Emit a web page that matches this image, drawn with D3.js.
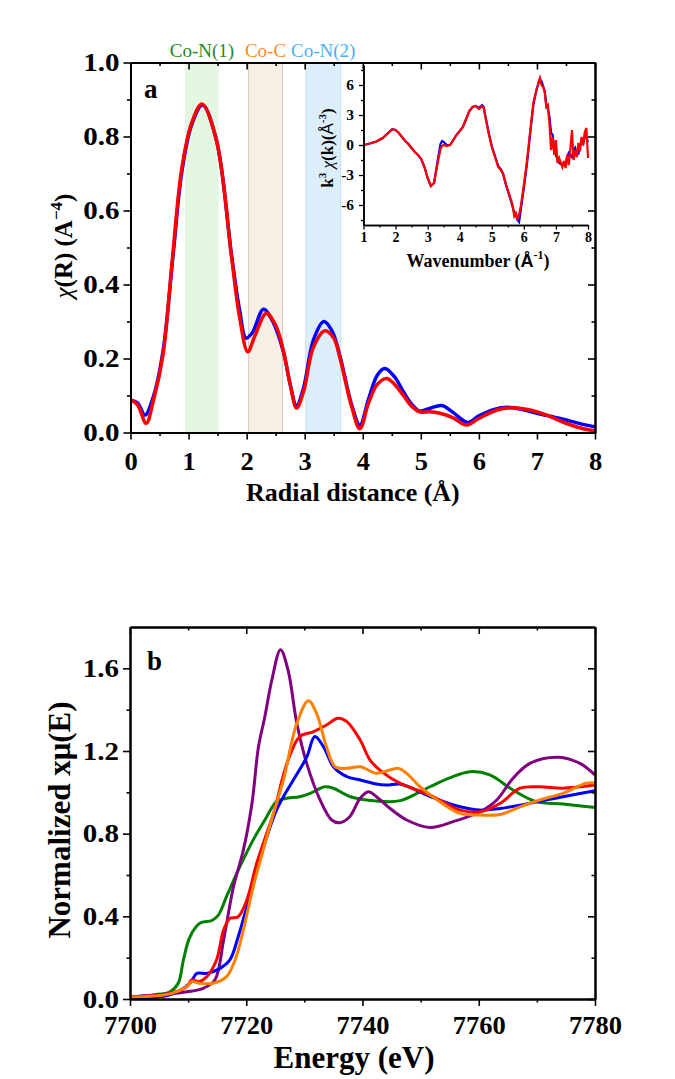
<!DOCTYPE html>
<html><head><meta charset="utf-8">
<script src="https://cdn.jsdelivr.net/npm/d3@7"></script>
<style>
body{margin:0;background:#fff;}
</style>
</head><body>
<svg id="c" width="675" height="1079"></svg>
<script>
// ---------- Panel a : FT magnitude ----------
const rExp   = [0,0.12,0.25,0.4,0.56,0.74,0.88,1.05,1.24,1.48,1.74,1.88,1.99,2.1,2.29,2.45,2.63,2.75,2.86,2.98,3.15,3.33,3.47,3.61,3.8,3.95,4.1,4.25,4.38,4.55,4.7,4.85,4.98,5.15,5.36,5.55,5.81,6.0,6.25,6.5,6.75,7.0,7.4,7.74,8.0];
const chiExp = [0.088,0.08,0.047,0.10,0.22,0.49,0.70,0.83,0.885,0.79,0.48,0.33,0.255,0.27,0.333,0.30,0.22,0.13,0.072,0.12,0.25,0.30,0.275,0.205,0.08,0.02,0.09,0.155,0.173,0.15,0.11,0.075,0.058,0.065,0.073,0.055,0.027,0.045,0.062,0.068,0.062,0.052,0.038,0.024,0.015];
const rFit   = [0,0.12,0.27,0.4,0.56,0.71,0.88,1.05,1.23,1.48,1.74,1.88,2.02,2.14,2.34,2.5,2.63,2.75,2.86,2.98,3.15,3.35,3.5,3.61,3.8,3.95,4.1,4.25,4.41,4.55,4.7,4.85,5.0,5.15,5.33,5.55,5.79,6.0,6.3,6.6,6.9,7.2,7.5,7.8,8.0];
const chiFit = [0.088,0.075,0.025,0.09,0.21,0.45,0.71,0.835,0.888,0.79,0.475,0.31,0.218,0.26,0.322,0.29,0.223,0.13,0.066,0.11,0.23,0.275,0.255,0.2,0.075,0.01,0.08,0.13,0.146,0.13,0.10,0.07,0.055,0.056,0.052,0.04,0.02,0.038,0.06,0.067,0.06,0.045,0.025,0.01,0.004];
const bandStart  = [0.94,2.03,3.02];
const bandEnd    = [1.52,2.62,3.62];
const bandLabels = ["Co-N(1)","Co-C","Co-N(2)"];
const aXTicks = [0,1,2,3,4,5,6,7,8];
const aYTicks = [0,0.2,0.4,0.6,0.8,1.0];

// ---------- Inset : k-space ----------
const kVals   = [1.0,1.2,1.4,1.6,1.8,1.9,2.0,2.1,2.2,2.3,2.4,2.5,2.6,2.7,2.8,2.9,3.0,3.1,3.2,3.3,3.4,3.45,3.5,3.6,3.7,3.8,3.9,4.0,4.1,4.2,4.3,4.4,4.5,4.6,4.7,4.75,4.8,4.9,5.0,5.1,5.2,5.3,5.35,5.45,5.55,5.65,5.7,5.75,5.8,5.85,5.9,6.0,6.1,6.2,6.3,6.4,6.5,6.55,6.6,6.65,6.7,6.75,6.8,6.85,6.9,6.95,7.0,7.05,7.1,7.2,7.25,7.3,7.35,7.4,7.45,7.5,7.55,7.6,7.65,7.7,7.75,7.8,7.85,7.9,7.95,8.0];
const kChiExp = [0.0,0.15,0.35,0.7,1.3,1.6,1.5,1.2,0.8,0.4,0.1,-0.3,-0.7,-1.0,-1.4,-2.2,-3.3,-4.1,-3.8,-1.8,0.1,0.4,0.3,0.0,0.0,0.5,1.0,1.4,1.8,2.6,3.4,3.8,3.9,3.7,4.0,3.8,2.9,1.3,-0.1,-1.1,-2.1,-2.5,-2.9,-4.1,-5.1,-6.2,-6.8,-7.0,-7.5,-7.7,-6.6,-4.3,-1.8,1.2,4.1,5.6,6.6,6.4,5.9,5.4,4.0,3.6,2.8,1.2,1.0,-0.4,-1.0,-1.5,-1.8,-2.0,-1.8,-1.9,-1.2,-0.8,-1.0,-1.2,-0.6,-0.3,-0.9,-0.9,-0.2,0.3,0.1,0.9,0.8,0.3];
const kChiFit = [0.0,0.15,0.35,0.7,1.3,1.55,1.5,1.2,0.8,0.4,0.1,-0.3,-0.7,-1.0,-1.4,-2.2,-3.3,-4.1,-3.8,-2.0,-0.4,-0.1,0.0,-0.1,0.0,0.5,1.0,1.4,1.8,2.6,3.4,3.8,3.9,3.6,3.9,3.7,2.8,1.2,-0.2,-1.2,-2.2,-2.6,-2.8,-4.0,-5.0,-6.0,-7.1,-6.8,-7.4,-7.0,-6.2,-4.0,-1.5,1.5,4.3,5.6,6.7,6.0,5.8,5.3,3.8,4.0,2.0,-0.5,0.8,-1.0,0.5,-1.8,-1.3,-2.2,-1.6,-2.3,-1.0,-2.0,-0.4,1.5,-1.5,-0.5,-1.2,0.2,-0.6,0.8,0.0,1.3,1.7,-1.3];
const kXTicks = [1,2,3,4,5,6,7,8];
const kYTicks = [-6,-3,0,3,6];

// ---------- Panel b : XANES ----------
const eGreen  = [7700,7704,7706.9,7708.3,7709.2,7710.3,7712,7714.1,7715.2,7716.6,7718.9,7721.2,7723.2,7725.2,7726.7,7729.2,7731,7733.5,7735,7737.8,7742.4,7746.5,7751.6,7755,7758.5,7761.9,7765.9,7769.9,7774.5,7780];
const muGreen = [0.01,0.02,0.035,0.076,0.19,0.30,0.366,0.38,0.406,0.495,0.64,0.77,0.866,0.955,0.97,0.979,0.995,1.027,1.02,0.98,0.958,0.96,1.027,1.07,1.10,1.084,1.011,0.955,0.943,0.927];
const ePurple  = [7700,7705.2,7709.8,7712.6,7714.6,7716.1,7717.8,7719.5,7721,7722.1,7723.2,7724.4,7725.9,7727.2,7728.7,7730.4,7732.7,7734.7,7736.1,7737.8,7739.6,7741,7742.4,7744.7,7747.6,7751.6,7755.6,7760.2,7763.1,7765.9,7768.8,7773.7,7777.4,7780];
const muPurple = [0.01,0.02,0.035,0.052,0.092,0.285,0.543,0.72,0.95,1.22,1.366,1.543,1.69,1.59,1.334,1.14,0.963,0.866,0.853,0.882,0.971,1.003,0.979,0.923,0.866,0.83,0.858,0.906,0.963,1.068,1.14,1.17,1.14,1.084];
const eBlue  = [7700,7706.9,7710.3,7711.5,7713.2,7715.5,7717.2,7718.6,7720.1,7722.4,7725.2,7728.1,7730.4,7731.8,7733.3,7735,7737.3,7739.6,7741.9,7744.2,7746.5,7751.6,7756.8,7760.2,7763.7,7768.8,7774.5,7780];
const muBlue = [0.005,0.02,0.076,0.124,0.124,0.148,0.19,0.30,0.447,0.68,0.914,1.06,1.17,1.27,1.22,1.124,1.076,1.06,1.043,1.035,1.04,0.98,0.93,0.914,0.922,0.947,0.979,1.008];
const eRed  = [7700,7706.9,7709.8,7710.6,7711.8,7713.2,7714.9,7716.1,7717.2,7718.6,7720.1,7721.8,7723.5,7724.7,7727,7729.2,7731.5,7733.8,7735.8,7737.3,7739.6,7741.3,7743.3,7746.5,7751.6,7756.8,7760.2,7763.7,7767.1,7770.5,7774.5,7780];
const muRed = [0.01,0.027,0.06,0.092,0.084,0.108,0.19,0.334,0.39,0.398,0.479,0.657,0.80,0.898,1.14,1.27,1.293,1.326,1.358,1.342,1.253,1.156,1.10,1.043,0.987,0.914,0.906,0.947,1.02,1.027,1.02,1.035];
const eOrange  = [7700,7706.9,7709.8,7710.6,7712,7714.3,7716.6,7718.1,7719.5,7721.2,7722.9,7724.5,7726.4,7728.7,7730.7,7732.1,7733.8,7735.3,7737.3,7739.6,7742.4,7744.7,7746.2,7747.6,7749.9,7753.3,7756.8,7760.2,7763.7,7767.1,7770.5,7774.5,7778.5,7780];
const muOrange = [0.01,0.025,0.06,0.084,0.076,0.076,0.108,0.19,0.334,0.543,0.72,0.88,1.06,1.334,1.443,1.382,1.22,1.124,1.116,1.124,1.092,1.108,1.116,1.092,1.027,0.955,0.898,0.89,0.893,0.93,0.963,0.995,1.044,1.044];
const bXTicks = [7700,7720,7740,7760,7780];
const bYTicks = [0,0.4,0.8,1.2,1.6];

// ---------- drawing ----------
const SERIF = '"Liberation Serif","Times New Roman",Times,serif';
const SANS  = '"Liberation Sans",Arial,sans-serif';
const svg = d3.select("#c");
const zip = (a,b) => a.map((v,i)=>[v,b[i]]);

function styleAxis(sel, fs, stretch){
  sel.selectAll("path.domain").attr("stroke","#000").attr("stroke-width",2);
  sel.selectAll(".tick line").attr("stroke","#000").attr("stroke-width",1.6);
  sel.selectAll("text").style("font-size",fs+"px").style("font-weight","bold")
     .style("font-family",SERIF).style("fill","#000");
  if(stretch && stretch!==1){
    sel.selectAll("text").each(function(){
      const w = this.getComputedTextLength();
      if(w>0) d3.select(this).attr("textLength",w*stretch).attr("lengthAdjust","spacingAndGlyphs");
    });
  }
}
function frameAxes(g, x, y, xMaj, xMin, yMaj, yMin, fx, fy, fs, padX, padY, yStretch){
  const [x0,x1]=x.range(), [y0,y1]=y.range();
  const mk = (gen, tr, vals, size, fmt, pad, st) => {
    const a = g.append("g").attr("transform",tr)
      .call(gen.tickValues(vals).tickSize(size).tickSizeOuter(0).tickPadding(pad||3).tickFormat(fmt||""));
    styleAxis(a, fs, st);
    return a;
  };
  mk(d3.axisBottom(x), `translate(0,${y0})`, xMin, 3.5);
  mk(d3.axisBottom(x), `translate(0,${y0})`, xMaj, 7, fx, padX, 1.06);
  mk(d3.axisTop(x), `translate(0,${y1})`, xMin, -3.5);
  mk(d3.axisTop(x), `translate(0,${y1})`, xMaj, -7);
  mk(d3.axisLeft(y), `translate(${x0},0)`, yMin, 3.5);
  mk(d3.axisLeft(y), `translate(${x0},0)`, yMaj, 7, fy, padY, yStretch);
  mk(d3.axisRight(y), `translate(${x1},0)`, yMin, -3.5);
  mk(d3.axisRight(y), `translate(${x1},0)`, yMaj, -7);
}
function halfSteps(arr, step){
  const out=[]; for(let i=0;i<arr.length-1;i++) out.push(+(arr[i]+step).toFixed(3)); return out;
}
function txt(g, x, y, size, bold, str, anchor){
  return g.append("text").attr("x",x).attr("y",y).attr("text-anchor",anchor||"start")
    .style("font-family",SERIF).style("font-size",size+"px")
    .style("font-weight",bold?"bold":"normal").style("fill","#000").text(str||"");
}

// ===== Panel a =====
const xa = d3.scaleLinear().domain([0,8]).range([130.5,595]);
const ya = d3.scaleLinear().domain([0,1]).range([432.5,62.5]);
const bandFill   = ["#e4f7e0","#f6efe3","#ddeefb"];
const bandStroke = ["none","#c9c2ba","#b9daf2"];
const labelColor = ["#1f8a1f","#ff8c1a","#44b5f5"];
const ga = svg.append("g");
bandStart.forEach((s,i)=>{
  ga.append("rect").attr("x",xa(s)).attr("y",ya(1)).attr("width",xa(bandEnd[i])-xa(s))
    .attr("height",ya(0)-ya(1)).attr("fill",bandFill[i])
    .attr("stroke",bandStroke[i]).attr("stroke-width",0.8);
  txt(ga,(xa(s)+xa(bandEnd[i]))/2,57,19,false,bandLabels[i],"middle").style("fill",labelColor[i]);
});
const lineA = d3.line().x(d=>xa(d[0])).y(d=>ya(d[1])).curve(d3.curveCatmullRom.alpha(0.5));
ga.append("path").attr("d",lineA(zip(rExp,chiExp))).attr("fill","none").attr("stroke","#0000ff").attr("stroke-width",3.5);
ga.append("path").attr("d",lineA(zip(rFit,chiFit))).attr("fill","none").attr("stroke","#ff0000").attr("stroke-width",3.5);
frameAxes(ga, xa, ya, aXTicks, halfSteps(aXTicks,0.5), aYTicks, halfSteps(aYTicks,0.1),
  d=>String(d), d3.format(".1f"), 25, 13, 4, 1.16);
txt(ga,144,98,27,true,"a");
txt(ga,xa(3.83),501,26,true,"Radial distance (Å)","middle");
const yta = txt(ga,0,0,25,true,"","middle").attr("transform","translate(72,246) rotate(-90)");
yta.append("tspan").style("font-style","italic").style("font-weight","normal").text("χ");
yta.append("tspan").text("(R) (A");
yta.append("tspan").attr("dy",-10).style("font-size","17px").text("−4");
yta.append("tspan").attr("dy",10).text(")");

// ===== Inset =====
const xk = d3.scaleLinear().domain([1,8]).range([363.5,588]);
const yk = d3.scaleLinear().domain([-8,8]).range([225,65]);
const gi = svg.append("g");
const lineK = d3.line().x(d=>xk(d[0])).y(d=>yk(d[1]));
gi.append("path").attr("d",lineK(zip(kVals,kChiExp))).attr("fill","none").attr("stroke","#0000ff").attr("stroke-width",2.2);
gi.append("path").attr("d",lineK(zip(kVals,kChiFit))).attr("fill","none").attr("stroke","#ff0000").attr("stroke-width",2.2);
function mkI(gen,tr,vals,size,fmt,pad,st){
  const a = gi.append("g").attr("transform",tr)
    .call(gen.tickValues(vals).tickSize(size).tickSizeOuter(0).tickPadding(pad||3).tickFormat(fmt||""));
  styleAxis(a,14,st);
  a.selectAll("path.domain").attr("stroke-width",1.6);
  a.selectAll(".tick line").attr("stroke-width",1.3);
}
mkI(d3.axisBottom(xk),"translate(0,225)",halfSteps(kXTicks,0.5),2.5);
mkI(d3.axisBottom(xk),"translate(0,225)",kXTicks,4.5,d=>String(d),3);
mkI(d3.axisLeft(yk),"translate(363.5,0)",[-7.5,-4.5,-1.5,1.5,4.5,7.5],2.5);
mkI(d3.axisLeft(yk),"translate(363.5,0)",kYTicks,4.5,d=>String(d),5,1.1);
const xti = txt(gi,478,267,18,true,"","middle");
xti.append("tspan").text("Wavenumber (");
xti.append("tspan").style("font-family",SANS).text("Å");
xti.append("tspan").attr("dy",-8).style("font-size","12px").text("-1");
xti.append("tspan").attr("dy",8).text(")");
const yti = txt(gi,0,0,17,true,"","middle").attr("transform","translate(333,148) rotate(-90)");
yti.append("tspan").text("k");
yti.append("tspan").attr("dy",-7).style("font-size","11px").text("3");
yti.append("tspan").attr("dy",7).style("font-style","italic").style("font-weight","normal").text(" χ");
yti.append("tspan").text("(k)(");
yti.append("tspan").style("font-family",SANS).style("font-weight","normal").text("Å");
yti.append("tspan").attr("dy",-7).style("font-size","11px").text("-3");
yti.append("tspan").attr("dy",7).text(")");

// ===== Panel b =====
const xb = d3.scaleLinear().domain([7700,7780]).range([130,595]);
const yb = d3.scaleLinear().domain([0,1.8]).range([999,627]);
const gb = svg.append("g");
const lineB = d3.line().x(d=>xb(d[0])).y(d=>yb(d[1])).curve(d3.curveCatmullRom.alpha(0.5));
[[eGreen,muGreen,"#008000"],[ePurple,muPurple,"#800080"],[eBlue,muBlue,"#0000ff"],[eRed,muRed,"#ff0000"],[eOrange,muOrange,"#ff8000"]]
 .forEach(([e,m,c])=>{
  gb.append("path").attr("d",lineB(zip(e,m))).attr("fill","none").attr("stroke",c).attr("stroke-width",3);
 });
frameAxes(gb, xb, yb, bXTicks, halfSteps(bXTicks,10), bYTicks, halfSteps(bYTicks,0.2),
  d=>String(d), d3.format(".1f"), 25, 10, 4, 1.16);
txt(gb,147,670,27,true,"b");
txt(gb,354,1068,31,true,"Energy (eV)","middle");
txt(gb,0,0,31,true,"Normalized xμ(E)","middle").attr("transform","translate(70,820) rotate(-90)");
</script>
</body></html>
